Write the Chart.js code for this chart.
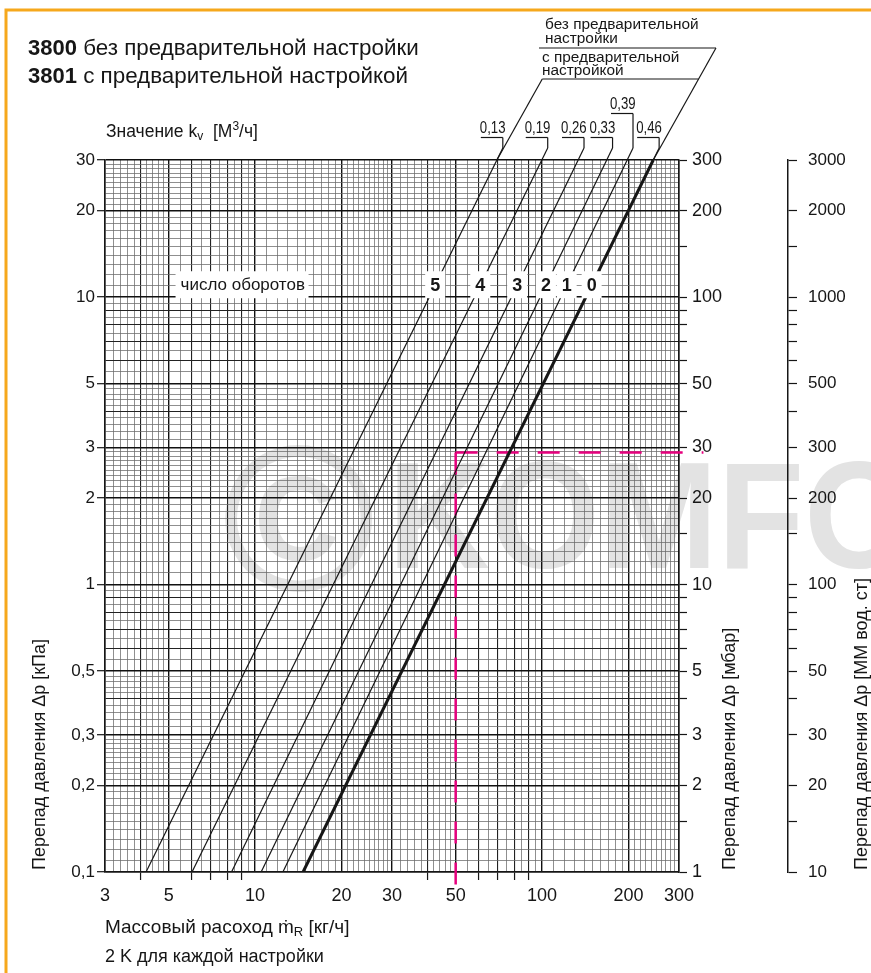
<!DOCTYPE html>
<html>
<head>
<meta charset="utf-8">
<script src="https://cdn.jsdelivr.net/npm/chart.js@4.4.1/dist/chart.umd.min.js"></script>
<style>
  html, body { margin: 0; padding: 0; background: #fff; }
  canvas { display: block; }
</style>
</head>
<body>
<canvas id="chart" width="871" height="973"></canvas>
<script>
const FONT = "'Liberation Sans', Arial, Helvetica, sans-serif";
const INK = '#161616';

// one line per presetting, kv in m3/h
const kvLabels = ['0,13', '0,19', '0,26', '0,33', '0,39', '0,46'];
const turnLabels = ['5', '4', '3', '2', '1', '0'];
// mass flow [kg/h] where each line meets the bottom (0.1 kPa) and the top (30 kPa)
const flowAtMin = [4.17, 6.03, 8.28, 10.5, 12.5, 14.7];
const flowAtMax = [69.6, 99.8, 133.6, 168, 198, 244];
const dpMin = 0.1;
const dpMax = 30;

const xTickLabels = [3, 5, 10, 20, 30, 50, 100, 200, 300];
const yTickLabels = [0.1, 0.2, 0.3, 0.5, 1, 2, 3, 5, 10, 20, 30];
const mbarTickLabels = [1, 2, 3, 5, 10, 20, 30, 50, 100, 200, 300];
const mmTickLabels = [10, 20, 30, 50, 100, 200, 300, 500, 1000, 2000, 3000];

// reading example (pink dashed)
const exampleFlow = 50;
const exampleDp = 2.88;
const exampleFlowEnd = 365;
const exampleDpEnd = 0.09;

// where the turn numbers sit on the lines
const turnLabelDp = 11;

function isIn(list, v) {
    return list.some((a) => Math.abs(a - v) <= a * 1e-6);
}

function isMajor(v) {
    const m = v / Math.pow(10, Math.floor(Math.log10(v) + 1e-9));
    return Math.abs(m - Math.round(m)) < 1e-6;
}

// log paper: 0.1 steps up to 3, 0.2 up to 5, 0.5 up to 10 (per decade)
function gridValues(min, max) {
    const out = [];
    for (let e = -2; e <= 4; e += 1) {
        for (let k = 10; k < 100; k += 1) {
            if (k >= 30 && k < 50 && k % 2) continue;
            if (k >= 50 && k % 5) continue;
            const v = Number((k * Math.pow(10, e - 1)).toPrecision(8));
            if (v >= min * 0.9999 && v <= max * 1.0001) out.push(v);
        }
    }
    return out;
}

function scaleMarks(min, max) {
    const out = [];
    for (let e = -2; e <= 4; e += 1) {
        [1, 1.5, 2, 3, 4, 5, 6, 7, 8, 9].forEach((m) => {
            const v = Number((m * Math.pow(10, e)).toPrecision(8));
            if (v >= min * 0.9999 && v <= max * 1.0001) out.push(v);
        });
    }
    return out;
}

function fmt(v) {
    return String(v).replace('.', ',');
}

function gridColor(labels) {
    return (c) => {
        const v = c.tick ? c.tick.value : 1;
        if (isIn(labels, v)) return '#111';
        return isMajor(v) ? '#222' : '#6a6a6a';
    };
}

function gridWidth(labels) {
    return (c) => {
        const v = c.tick ? c.tick.value : 1;
        if (isIn(labels, v)) return 1.4;
        return isMajor(v) ? 1.1 : 0.75;
    };
}

function pointOnLine(i, dp) {
    const t = (Math.log10(dp) - Math.log10(dpMin)) / (Math.log10(dpMax) - Math.log10(dpMin));
    const lx = Math.log10(flowAtMin[i]) + t * (Math.log10(flowAtMax[i]) - Math.log10(flowAtMin[i]));
    return Math.pow(10, lx);
}

const datasets = kvLabels.map((kv, i) => ({
    label: kv,
    data: [{ x: flowAtMin[i], y: dpMin }, { x: flowAtMax[i], y: dpMax }],
    showLine: true,
    borderColor: INK,
    borderWidth: i === kvLabels.length - 1 ? 3 : 1.2,
    pointRadius: 0,
    xAxisID: 'x',
    yAxisID: 'y',
}));

datasets.push({
    label: 'example-h',
    data: [{ x: exampleFlow, y: exampleDp }, { x: exampleFlowEnd, y: exampleDp }],
    showLine: true,
    borderColor: '#e6007e',
    borderWidth: 2.5,
    borderDash: [22, 19],
    pointRadius: 0,
    clip: false,
    xAxisID: 'x',
    yAxisID: 'y',
});
datasets.push({
    label: 'example-v',
    data: [{ x: exampleFlow, y: exampleDp }, { x: exampleFlow, y: exampleDpEnd }],
    showLine: true,
    borderColor: '#e6007e',
    borderWidth: 2.5,
    borderDash: [22, 19],
    pointRadius: 0,
    clip: false,
    xAxisID: 'x',
    yAxisID: 'y',
});

function vText(ctx, text, x, y, size) {
    ctx.save();
    ctx.translate(x, y);
    ctx.rotate(-Math.PI / 2);
    ctx.font = `${size}px ${FONT}`;
    ctx.textAlign = 'left';
    ctx.textBaseline = 'middle';
    ctx.fillText(text, 0, 0);
    ctx.restore();
}

function runs(ctx, x, y, parts) {
    // parts: [text, font, dy]
    parts.forEach(([text, font, dy]) => {
        ctx.font = font;
        ctx.fillText(text, x, y + (dy || 0));
        x += ctx.measureText(text).width;
    });
}

function line(ctx, x1, y1, x2, y2) {
    ctx.beginPath();
    ctx.moveTo(x1, y1);
    ctx.lineTo(x2, y2);
    ctx.stroke();
}

const decor = {
    id: 'decor',
    beforeDraw(chart) {
        const ctx = chart.ctx;
        ctx.save();
        ctx.fillStyle = '#fff';
        ctx.fillRect(0, 0, chart.width, chart.height);
        ctx.fillStyle = '#e3e3e3';
        ctx.textBaseline = 'alphabetic';
        ctx.font = `bold 208px ${FONT}`;
        ctx.fillText('©', 222, 590);
        ctx.save();
        ctx.translate(388, 568);
        ctx.scale(0.93, 1);
        ctx.font = `bold 152px ${FONT}`;
        ctx.fillText('KOMFO', 0, 0);
        ctx.restore();
        ctx.restore();
    },
    afterDatasetsDraw(chart) {
        const ctx = chart.ctx;
        const xs = chart.scales.x;
        const ys = chart.scales.y;
        ctx.save();
        // turn numbers on white patches
        const py = ys.getPixelForValue(turnLabelDp);
        turnLabels.forEach((t, i) => {
            const px = xs.getPixelForValue(pointOnLine(i, turnLabelDp));
            ctx.fillStyle = '#fff';
            ctx.fillRect(px - 10, py - 14, 20, 27);
            ctx.fillStyle = INK;
            ctx.font = `bold 18px ${FONT}`;
            ctx.textAlign = 'center';
            ctx.textBaseline = 'middle';
            ctx.fillText(t, px, py + 1);
        });
        // "число оборотов"
        const lx = xs.getPixelForValue(5.5);
        ctx.fillStyle = '#fff';
        ctx.fillRect(lx - 5, py - 14, 133, 27);
        ctx.fillStyle = INK;
        ctx.font = `17px ${FONT}`;
        ctx.textAlign = 'left';
        ctx.textBaseline = 'middle';
        ctx.fillText('число оборотов', lx, py);
        ctx.restore();
    },
    afterDraw(chart) {
        const ctx = chart.ctx;
        const xs = chart.scales.x;
        const ys = chart.scales.y;
        const area = chart.chartArea;
        ctx.save();
        ctx.fillStyle = INK;
        ctx.strokeStyle = INK;
        ctx.textBaseline = 'alphabetic';
        ctx.textAlign = 'left';

        // headline
        runs(ctx, 28, 55, [['3800', `bold 22px ${FONT}`], [' без предварительной настройки', `22.4px ${FONT}`]]);
        runs(ctx, 28, 83, [['3801', `bold 22px ${FONT}`], [' с предварительной настройкой', `22.4px ${FONT}`]]);

        runs(ctx, 106, 137, [
            ['Значение k', `17.5px ${FONT}`],
            ['v', `12px ${FONT}`, 3],
            ['  [M', `17.5px ${FONT}`],
            ['3', `12px ${FONT}`, -7],
            ['/ч]', `17.5px ${FONT}`],
        ]);

        // kv leaders above the grid
        ctx.lineWidth = 1.2;
        const tops = kvLabels.map((kv, i) => {
            const tx = xs.getPixelForValue(flowAtMax[i]);
            const bx = xs.getPixelForValue(flowAtMin[i]);
            const slope = (tx - bx) / (ys.getPixelForValue(dpMin) - ys.getPixelForValue(dpMax));
            return { tx, slope };
        });
        kvLabels.forEach((kv, i) => {
            const { tx, slope } = tops[i];
            const vy = area.top - 12;
            const vx = tx + slope * 12;
            const base = i === 4 ? 109 : 133;
            const uy = base + 4.5;
            line(ctx, tx, area.top, vx, vy);
            line(ctx, vx, vy, vx, uy);
            line(ctx, vx - 22, uy, vx, uy);
            ctx.save();
            ctx.translate(vx - 23, base);
            ctx.scale(0.8, 1);
            ctx.font = `16.5px ${FONT}`;
            ctx.fillText(kv, 0, 0);
            ctx.restore();
        });

        // the two group frames
        const first = tops[0].tx;
        const last = tops[tops.length - 1].tx;
        const ext = 0.56;
        const yLow = area.top - 81;
        const yHigh = area.top - 112;
        line(ctx, first, area.top, first + ext * 81, yLow);
        line(ctx, first + ext * 81, yLow, last + ext * 81, yLow);
        line(ctx, last, area.top, last + ext * 112, yHigh);
        line(ctx, 539, yHigh, last + ext * 112, yHigh);
        ctx.font = `15.4px ${FONT}`;
        ctx.fillText('без предварительной', 545, 29);
        ctx.fillText('настройки', 545, 43);
        ctx.fillText('с предварительной', 542, 62);
        ctx.fillText('настройкой', 542, 75);

        // axis titles
        vText(ctx, 'Перепад давления Δp [кПа]', 40, 870, 18);
        vText(ctx, 'Перепад давления Δp [мбар]', 730, 870, 18);
        vText(ctx, 'Перепад давления Δp [ММ вод. ст]', 862, 870, 18);

        runs(ctx, 105, 933, [
            ['Массовый расоход ', `19px ${FONT}`],
            ['ṁ', `19px ${FONT}`],
            ['R', `13px ${FONT}`, 3],
            [' [кг/ч]', `19px ${FONT}`],
        ]);
        ctx.font = `18px ${FONT}`;
        ctx.fillText('2 K для каждой настройки', 105, 962);

        // page frame
        ctx.strokeStyle = '#f6a81c';
        ctx.lineWidth = 3;
        ctx.beginPath();
        ctx.moveTo(6, chart.height);
        ctx.lineTo(6, 10);
        ctx.lineTo(chart.width, 10);
        ctx.stroke();
        ctx.restore();
    },
};

Chart.defaults.font.family = FONT;
Chart.defaults.color = INK;

new Chart(document.getElementById('chart'), {
    type: 'scatter',
    data: { datasets },
    options: {
        responsive: false,
        animation: false,
        events: [],
        layout: { padding: { top: 160, left: 0, right: 0, bottom: 71 } },
        plugins: { legend: { display: false }, tooltip: { enabled: false } },
        scales: {
            x: {
                type: 'logarithmic',
                position: 'bottom',
                min: 3,
                max: 300,
                afterBuildTicks: (s) => { s.ticks = gridValues(3, 300).map((v) => ({ value: v })); },
                afterFit: (s) => { s.height = 30; },
                border: { color: INK, width: 1.5 },
                grid: {
                    color: gridColor(xTickLabels),
                    lineWidth: gridWidth(xTickLabels),
                    tickLength: 8,
                    tickColor: (c) => (c.tick && isMajor(c.tick.value) && !isIn(xTickLabels, c.tick.value) ? INK : 'rgba(0,0,0,0)'),
                    tickWidth: 1.2,
                },
                ticks: {
                    autoSkip: false,
                    maxRotation: 0,
                    padding: 5,
                    font: { size: 18 },
                    color: INK,
                    callback: (v) => (isIn(xTickLabels, v) ? String(v) : ''),
                },
            },
            y: {
                type: 'logarithmic',
                position: 'left',
                min: dpMin,
                max: dpMax,
                afterBuildTicks: (s) => { s.ticks = gridValues(dpMin, dpMax).map((v) => ({ value: v })); },
                afterFit: (s) => { s.width = 105; },
                border: { color: INK, width: 1.5 },
                grid: {
                    color: gridColor(yTickLabels),
                    lineWidth: gridWidth(yTickLabels),
                    tickLength: 8,
                    tickColor: (c) => (c.tick && isIn(yTickLabels, c.tick.value) ? INK : 'rgba(0,0,0,0)'),
                    tickWidth: 1.2,
                },
                ticks: {
                    autoSkip: false,
                    padding: 2,
                    font: { size: 17 },
                    color: INK,
                    callback: (v) => (isIn(yTickLabels, v) ? fmt(v) : ''),
                },
            },
            y2: {
                type: 'logarithmic',
                position: 'right',
                min: 1,
                max: 300,
                afterBuildTicks: (s) => { s.ticks = scaleMarks(1, 300).map((v) => ({ value: v })); },
                afterFit: (s) => { s.width = 109; },
                border: { color: INK, width: 1.5 },
                grid: { drawOnChartArea: false, tickLength: 8, color: INK, tickWidth: 1.2 },
                ticks: {
                    autoSkip: false,
                    padding: 5,
                    font: { size: 18 },
                    color: INK,
                    callback: (v) => (isIn(mbarTickLabels, v) ? String(v) : ''),
                },
            },
            y3: {
                type: 'logarithmic',
                position: 'right',
                min: 10,
                max: 3000,
                afterBuildTicks: (s) => { s.ticks = scaleMarks(10, 3000).map((v) => ({ value: v })); },
                afterFit: (s) => { s.width = 83; },
                border: { color: INK, width: 1.5 },
                grid: { drawOnChartArea: false, tickLength: 9, color: INK, tickWidth: 1.2 },
                ticks: {
                    autoSkip: false,
                    padding: 11,
                    font: { size: 17 },
                    color: INK,
                    callback: (v) => (isIn(mmTickLabels, v) ? String(v) : ''),
                },
            },
        },
    },
    plugins: [decor],
});
</script>
</body>
</html>
